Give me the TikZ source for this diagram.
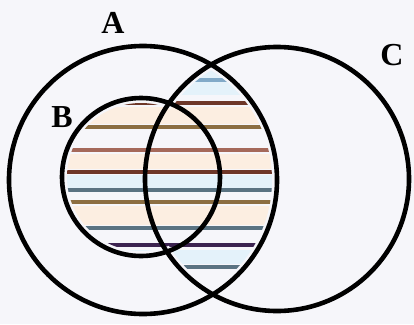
\documentclass[tikz,border=0pt]{standalone}
\usepackage{fontspec}
\setmainfont{Liberation Serif}
\definecolor{bg}{RGB}{246,246,250}
\definecolor{hb1}{RGB}{110,55,40}
\definecolor{hb2}{RGB}{140,110,65}
\definecolor{hb3}{RGB}{165,105,90}
\definecolor{hb4}{RGB}{90,115,130}
\definecolor{hb5}{RGB}{60,35,80}
\definecolor{hb6}{RGB}{130,170,200}
\definecolor{tintA}{RGB}{252,238,225}
\definecolor{tintB}{RGB}{228,242,250}
\tikzset{
  ring/.style={draw=black,line width=4.6pt},
  hatch/.style={line width=3.6pt},
  lab/.style={font=\fontsize{32}{32}\selectfont\bfseries,inner sep=0pt}
}
\begin{document}
\begin{tikzpicture}[x=1pt,y=-1pt]
\fill[bg] (0,0) rectangle (414,324);
\useasboundingbox (0,0) rectangle (414,324);
\newcommand{\hatchlines}{%
  \fill[tintB] (0,70) rectangle (414,95);
  \fill[tintA] (0,107) rectangle (414,124);
  \fill[tintA] (0,154) rectangle (414,169);
  \fill[tintB] (0,175) rectangle (414,188);
  \fill[tintA] (0,206) rectangle (414,225);
  \fill[tintB] (0,250) rectangle (414,264);
  \draw[hatch,hb6] (0,80) -- (414,80);
  \draw[hatch,hb1] (0,103) -- (414,103);
  \draw[hatch,hb2] (0,127) -- (414,127);
  \draw[hatch,hb3] (0,150) -- (414,150);
  \draw[hatch,hb1] (0,172) -- (414,172);
  \draw[hatch,hb4] (0,190) -- (414,190);
  \draw[hatch,hb2] (0,202) -- (414,202);
  \draw[hatch,hb4] (0,228) -- (414,228);
  \draw[hatch,hb5] (0,245) -- (414,245);
  \draw[hatch,hb4] (0,267) -- (414,267);
}
\begin{scope}
  \clip (141,177) circle[radius=74];
  \hatchlines
\end{scope}
\begin{scope}
  \clip (143,180) circle[radius=129];
  \clip (277,179) circle[radius=127];
  \hatchlines
\end{scope}
\draw[ring] (143,180) circle[radius=134] coordinate (A);
\draw[ring] (277,179) circle[radius=132] coordinate (C);
\draw[ring] (141,177) circle[radius=79] coordinate (B);
\node[lab] (la) at (113,23) {A};
\node[lab] (lc) at (392,55) {C};
\node[lab] (lb) at (62,117) {B};
\end{tikzpicture}
\end{document}
